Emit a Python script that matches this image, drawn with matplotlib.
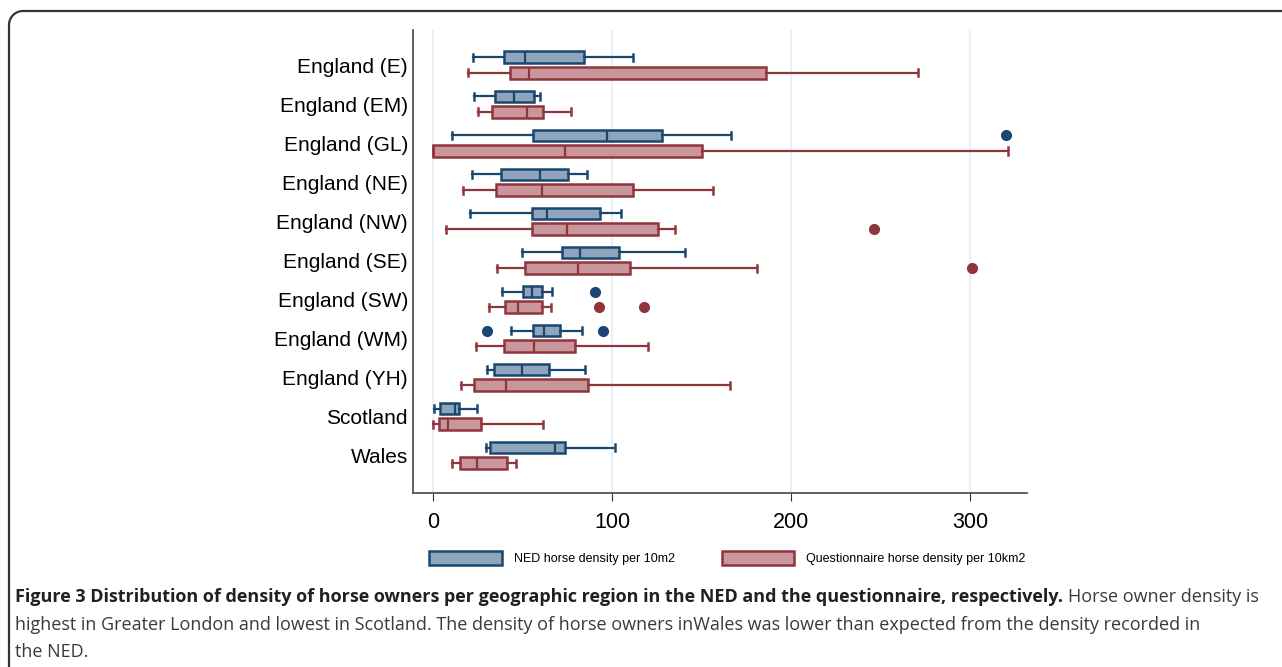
import matplotlib
matplotlib.use("Agg")
import matplotlib.pyplot as plt
import numpy as np
from matplotlib.patches import Patch
from matplotlib.lines import Line2D

regions = ["England (E)", "England (EM)", "England (GL)", "England (NE)", "England (NW)",
           "England (SE)", "England (SW)", "England (WM)", "England (YH)", "Scotland", "Wales"]

# NED horse density per 10m2: whisker low, q1, median, q3, whisker high
ned_low = [22.0, 22.9, 10.3, 21.5, 20.5, 49.4, 38.2, 43.5, 30.2, 0.2, 29.5]
ned_q1 = [39.4, 34.3, 55.6, 37.5, 55.0, 71.6, 50.0, 55.6, 33.8, 3.7, 31.7]
ned_med = [51.3, 44.9, 97.0, 59.7, 63.4, 81.7, 55.2, 61.6, 49.4, 11.8, 68.1]
ned_q3 = [84.1, 56.0, 128.0, 75.2, 93.1, 103.9, 60.6, 70.9, 64.4, 14.0, 73.3]
ned_high = [111.7, 59.7, 166.2, 86.0, 105.0, 140.6, 66.0, 83.2, 84.5, 24.1, 101.5]
ned_out = [[], [], [320.0], [], [], [], [90.5], [30.0, 95.0], [], [], []]

# Questionnaire horse density per 10km2
q_low = [19.2, 25.0, 0.0, 16.4, 7.1, 35.3, 31.0, 23.7, 15.3, 0.0, 10.3]
q_q1 = [42.7, 32.5, 0.0, 35.1, 55.0, 51.1, 40.1, 39.5, 22.8, 3.0, 14.7]
q_med = [53.3, 52.4, 73.7, 60.8, 74.8, 80.8, 47.4, 56.3, 40.5, 8.4, 24.4]
q_q3 = [186.0, 61.2, 150.3, 111.7, 125.7, 109.7, 60.6, 78.9, 86.4, 26.5, 41.2]
q_high = [270.8, 77.0, 321.4, 156.3, 135.2, 181.1, 65.5, 119.9, 165.6, 61.0, 46.3]
q_out = [[], [], [], [], [246.2], [300.9], [92.3, 117.5], [], [], [], []]

blue_edge = "#1a476f"
blue_face = "#8ea5bd"
red_edge = "#90353b"
red_face = "#c9979b"

plt.rcParams["font.family"] = ["Liberation Sans", "DejaVu Sans"]


def make_stats(low, q1, med, q3, high, out):
    stats = []
    for i in range(len(low)):
        stats.append({"whislo": low[i], "q1": q1[i], "med": med[i], "q3": q3[i],
                      "whishi": high[i], "fliers": out[i]})
    return stats


W, H = 1282, 667
fig = plt.figure(figsize=(W / 100, H / 100), dpi=100)
ax = fig.add_axes([0.3225, 0.261, 0.4785, 0.694])

rows = list(range(len(regions)))
off = 0.2

for stats, shift, ec, fc in [(make_stats(ned_low, ned_q1, ned_med, ned_q3, ned_high, ned_out), -off, blue_edge, blue_face),
                             (make_stats(q_low, q_q1, q_med, q_q3, q_high, q_out), off, red_edge, red_face)]:
    ax.bxp(stats, positions=[r + shift for r in rows], widths=0.3, orientation="horizontal",
           patch_artist=True, manage_ticks=False,
           boxprops=dict(facecolor=fc, edgecolor=ec, linewidth=1.8),
           medianprops=dict(color=ec, linewidth=1.6),
           whiskerprops=dict(color=ec, linewidth=1.6),
           capprops=dict(color=ec, linewidth=1.8),
           capwidths=0.18,
           flierprops=dict(marker="o", markerfacecolor=ec, markeredgecolor=ec, markersize=7))

ax.set_ylim(len(regions) - 1 + 0.96, -0.9)
ax.set_xlim(-11.2, 331.8)
ax.set_yticks(rows)
ax.set_yticklabels(regions, fontsize=15)
ax.set_xticks([0, 100, 200, 300])
ax.tick_params(axis="y", length=0, pad=4)
ax.tick_params(axis="x", length=6, labelsize=15.5, pad=8, color="#333333")
for x in [0, 100, 200, 300]:
    ax.axvline(x, color="#e3eef2", linewidth=1.2, zorder=0)
ax.spines["top"].set_visible(False)
ax.spines["right"].set_visible(False)
ax.spines["left"].set_color("#555555")
ax.spines["bottom"].set_color("#555555")
ax.spines["left"].set_linewidth(1.3)
ax.spines["bottom"].set_linewidth(1.3)

handles = [Patch(facecolor=blue_face, edgecolor=blue_edge, linewidth=1.8, label="NED horse density per 10m2"),
           Patch(facecolor=red_face, edgecolor=red_edge, linewidth=1.8, label="Questionnaire horse density per 10km2")]
fig.legend(handles=handles, loc="center", bbox_to_anchor=(0.5675, 0.163), ncol=2, frameon=False,
           fontsize=9, handlelength=5.8, handleheight=1.3, columnspacing=3.76, handletextpad=0.95)

# frame around figure: top edge and left edge with a rounded corner
rad = 14
ang = np.linspace(np.pi / 2, np.pi, 20)
fx = np.concatenate([[W + 5], 9 + rad + rad * np.cos(ang), [9]])
fy = np.concatenate([[11], 11 + rad - rad * np.sin(ang), [H + 5]])
fig.lines.append(Line2D(fx / W, 1 - fy / H, transform=fig.transFigure, color="#333333",
                        linewidth=1.6, clip_on=False))

cap_font = ["Open Sans", "DejaVu Sans"]
bold_txt = "Figure 3 Distribution of density of horse owners per geographic region in the NED and the questionnaire, respectively."
reg_txt = "Horse owner density is"
fs = 12.5
t1 = fig.text(15 / W, 1 - 597 / H, bold_txt, fontsize=fs, fontweight="bold", family=cap_font,
              color="#231f20", va="center")
t2 = fig.text(0, 1 - 597 / H, reg_txt, fontsize=fs, family=cap_font, color="#3a3a3a", va="center")
fig.canvas.draw()
r = fig.canvas.get_renderer()
w = t1.get_window_extent(r).width + t2.get_window_extent(r).width + 5
fs = fs * 1250 / w
t1.set_fontsize(fs)
t2.set_fontsize(fs)
fig.canvas.draw()
bb = t1.get_window_extent(r)
t2.set_x((bb.x1 + 5) / W)
fig.text(15 / W, 1 - 625 / H, "highest in Greater London and lowest in Scotland. The density of horse owners inWales was lower than expected from the density recorded in",
         fontsize=fs, family=cap_font, color="#3a3a3a", va="center")
fig.text(15 / W, 1 - 652 / H, "the NED.",
         fontsize=fs, family=cap_font, color="#3a3a3a", va="center")

fig.savefig("out.png", dpi=100)
